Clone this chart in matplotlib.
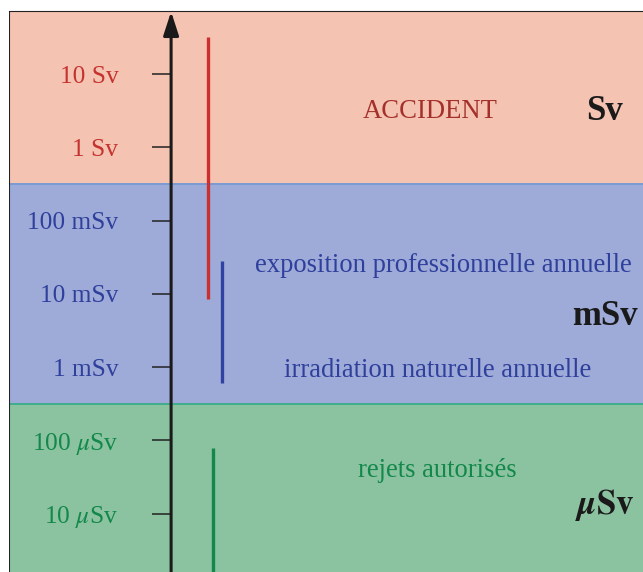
import numpy as np
import matplotlib.pyplot as plt

plt.rcParams['font.family'] = ['Liberation Serif', 'DejaVu Serif']
plt.rcParams['mathtext.fontset'] = 'stix'

# dose scale (Sv)
tick_values = [10, 1, 0.1, 0.01, 1e-3, 1e-4, 1e-5]
tick_labels = ['10 Sv', '1 Sv', '100 mSv', '10 mSv', '1 mSv', r'100 $\mu$Sv', r'10 $\mu$Sv']
tick_colors = ['#c4332f', '#c4332f', '#2f3f9c', '#2f3f9c', '#2f3f9c', '#13884a', '#13884a']

# bands: Sv / mSv / uSv
band_edges = [1e-6, 10**-3.5, 10**-0.5, 10**1.86]
band_colors = ['#8bc3a1', '#9eabd8', '#f5c3b2']
band_lines = ['#3fae8c', '#7a9ad2']

# ranges (Sv)
range_names = ['accident', 'professionnel', 'rejets']
range_low = [8.5e-3, 6e-4, 1e-6]
range_high = [31.6, 2.8e-2, 7.8e-5]
range_x = [0.3057, 0.327, 0.313]
range_colors = ['#cc2f2f', '#3141a2', '#14874a']

# annotations
notes = ['ACCIDENT', 'exposition professionnelle annuelle',
         'irradiation naturelle annuelle', 'rejets autoris\u00e9s']
notes_y = [3.1, 0.0243, 9.0e-4, 3.9e-5]
notes_x = [0.647, 0.667, 0.658, 0.658]
notes_colors = ['#a3302a', '#2f3f9c', '#2f3f9c', '#13884a']

units = ['Sv', 'mSv', r'$\mathbfit{\mu}\mathbf{Sv}$']
units_y = [3.1, 4.9e-3, 1.3e-5]

fig = plt.figure(figsize=(6.43, 5.72), dpi=100)
# frame runs past the right and bottom edges of the picture
ax = fig.add_axes([9/643, 1 - 587/572, 651/643, 576/572])
ax.set_yscale('log')
ax.set_ylim(band_edges[0], band_edges[-1])
ax.set_xlim(0, 1)

for i in range(3):
    ax.axhspan(band_edges[i], band_edges[i+1], color=band_colors[i], lw=0, zorder=0)
for i in range(2):
    ax.axhline(band_edges[i+1], color=band_lines[i], lw=1.4, zorder=1)

# y axis at the arrow position
ax.spines['left'].set_position(('axes', 0.249))
ax.spines['left'].set_visible(False)
ax.spines['right'].set_visible(False)
ax.spines['bottom'].set_visible(False)
ax.spines['top'].set_color('#222222')
ax.axvline(0, color='#222222', lw=1.5)
ax.set_xticks([])
ax.set_yticks(tick_values)
ax.set_yticklabels(tick_labels)
ax.minorticks_off()
ax.tick_params(axis='y', direction='out', length=14, width=1.1, color='#222222',
               pad=24, labelsize=18.3)
for lab, c in zip(ax.get_yticklabels(), tick_colors):
    lab.set_color(c)

ax.annotate('', xy=(0.249, 0.999), xytext=(0.249, 0.0), xycoords='axes fraction',
            arrowprops=dict(arrowstyle='-|>,head_length=0.4,head_width=0.13',
                            mutation_scale=36, lw=2.2, color='#1a1a1a',
                            shrinkA=0, shrinkB=0), zorder=5)

for i in range(len(range_names)):
    ax.plot([range_x[i], range_x[i]], [range_low[i], range_high[i]],
            color=range_colors[i], lw=2.4, solid_capstyle='butt', zorder=3)

for t, x, y, c in zip(notes, notes_x, notes_y, notes_colors):
    ax.text(x, y, t, color=c, fontsize=19.2, ha='center', va='center')

for u, y in zip(units, units_y):
    ax.text(0.9155, y, u, color='#1a1a1a', fontsize=25, fontweight='bold',
            ha='center', va='center')

fig.savefig('out.png', dpi=100)
